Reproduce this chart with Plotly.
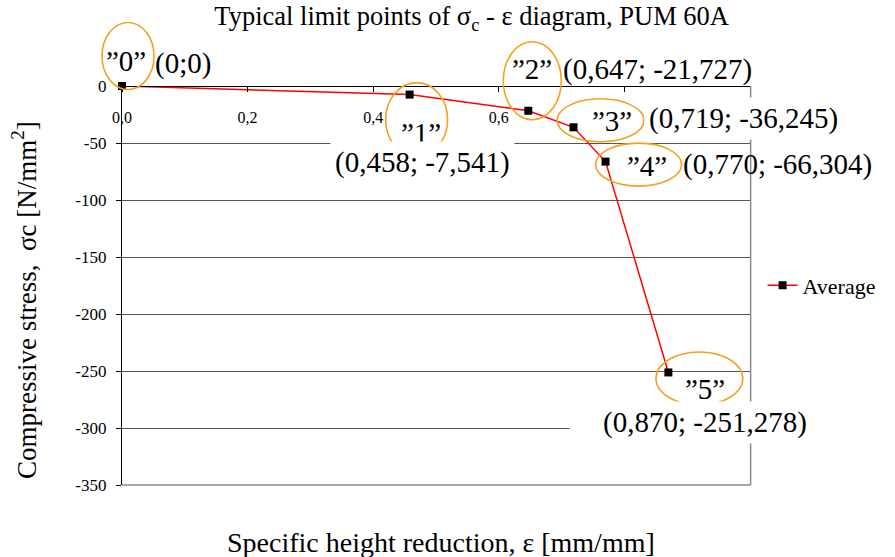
import plotly.graph_objects as go

# ---- data ----
strain = [0.0, 0.458, 0.647, 0.719, 0.770, 0.870]
stress = [0.0, -7.541, -21.727, -36.245, -66.304, -251.278]
point_names = ["”0”", "”1”", "”2”", "”3”", "”4”", "”5”"]
point_coords = ["(0;0)", "(0,458; -7,541)", "(0,647; -21,727)",
                "(0,719; -36,245)", "(0,770; -66,304)", "(0,870; -251,278)"]
series_name = "Average"

x_tick_vals = [0.0, 0.2, 0.4, 0.6, 0.8, 1.0]
x_tick_text = ["0,0", "0,2", "0,4", "0,6", "", ""]
y_tick_vals = [0, -50, -100, -150, -200, -250, -300, -350]
y_tick_text = ["0", "-50", "-100", "-150", "-200", "-250", "-300", "-350"]

title_text = "Typical limit points of σ<sub>c</sub> - ε diagram, PUM 60A"
x_title = "Specific height reduction, ε [mm/mm]"
y_title = "Compressive stress,  σc [N/mm<sup>2</sup>]"

X_RANGE = [0, 1.0]
Y_RANGE = [-350, 0]

# ---- label layout (pixel offsets from each point: right, down) ----
name_offsets = [(4, -25), (11, 38), (4, -42), (38, -6), (41, 4), (37, 17)]
coord_offsets = [(61, -23), (13, 68), (129, -41), (170, -9), (172, 3), (37, 50)]
coord_bg = [False, True, False, True, False, True]
coord_width = [None, None, None, None, None, 262]
ellipses = [(6, -30, 52, 67), (7, 25, 62, 74), (4, -30, 58, 78),
            (27, -7, 87, 43), (33, 3, 86, 43), (31, 6, 87, 53)]

FONT = "Liberation Serif, Times New Roman, DejaVu Serif, serif"
ORANGE = "#F5A01E"


def to_paper_x(v):
    return (v - X_RANGE[0]) / (X_RANGE[1] - X_RANGE[0])


def to_paper_y(v):
    return (v - Y_RANGE[0]) / (Y_RANGE[1] - Y_RANGE[0])


fig = go.Figure()
fig.add_trace(go.Scatter(
    x=strain, y=stress, mode="lines+markers", name=series_name,
    line=dict(color="#FF0000", width=1.5),
    marker=dict(symbol="square", size=8, color="black"),
    cliponaxis=False,
))

annotations = []
shapes = []

# plot frame (right and bottom, grey)
shapes.append(dict(type="line", xref="paper", yref="paper", x0=1.001, x1=1.001, y0=0, y1=1,
                   line=dict(color="#8a8a8a", width=1.5), layer="above"))
shapes.append(dict(type="line", xref="paper", yref="paper", x0=0, x1=1.001, y0=0, y1=0,
                   line=dict(color="#8a8a8a", width=1.5), layer="above"))

for i in range(len(strain)):
    dx, dy = name_offsets[i]
    annotations.append(dict(
        x=strain[i], y=stress[i], xref="x", yref="y", text=point_names[i],
        showarrow=False, xshift=dx, yshift=-dy,
        font=dict(family=FONT, size=29, color="black")))
    cx, cy = coord_offsets[i]
    a = dict(
        x=strain[i], y=stress[i], xref="x", yref="y", text=point_coords[i],
        showarrow=False, xshift=cx, yshift=-cy,
        font=dict(family=FONT, size=29, color="black"))
    if coord_bg[i]:
        a["bgcolor"] = "white"
        a["borderpad"] = 4
    if coord_width[i]:
        a["width"] = coord_width[i]
    annotations.append(a)
    ex, ey, ew, eh = ellipses[i]
    shapes.append(dict(
        type="circle", xref="paper", yref="paper", xsizemode="pixel", ysizemode="pixel",
        xanchor=to_paper_x(strain[i]), yanchor=to_paper_y(stress[i]),
        x0=ex - ew / 2, x1=ex + ew / 2, y0=-ey - eh / 2, y1=-ey + eh / 2,
        line=dict(color=ORANGE, width=1.6), layer="above"))

# axis titles
annotations.append(dict(x=0.508, y=-0.145, xref="paper", yref="paper", text=x_title,
                        xanchor="center", yanchor="middle",
                        showarrow=False, font=dict(family=FONT, size=28, color="black")))
annotations.append(dict(x=-0.155, y=0.463, xref="paper", yref="paper", text=y_title,
                        xanchor="center", yanchor="middle",
                        showarrow=False, textangle=-90,
                        font=dict(family=FONT, size=27, color="black")))

fig.update_layout(
    width=895, height=557,
    margin=dict(l=122, r=145, t=86, b=72),
    paper_bgcolor="white", plot_bgcolor="white",
    title=dict(text=title_text, x=0.527, xanchor="center", y=0.971, yanchor="middle",
               font=dict(family=FONT, size=26.5, color="black")),
    showlegend=True,
    legend=dict(x=1.02, y=0.5, xanchor="left", yanchor="middle",
                font=dict(family=FONT, size=22, color="black"),
                bgcolor="rgba(0,0,0,0)"),
    xaxis=dict(range=X_RANGE, anchor="free", position=1, side="bottom",
               tickvals=x_tick_vals, ticktext=x_tick_text,
               ticks="outside", ticklen=5, tickcolor="black",
               showline=True, linecolor="black", linewidth=1.2,
               showgrid=False, zeroline=False, automargin=False,
               ticklabelstandoff=12,
               tickfont=dict(family=FONT, size=16, color="black")),
    yaxis=dict(range=Y_RANGE, tickvals=y_tick_vals, ticktext=y_tick_text,
               ticks="outside", ticklen=5, tickcolor="black",
               showline=True, linecolor="black", linewidth=1.2,
               showgrid=True, gridcolor="#555555", gridwidth=1,
               zeroline=False, automargin=False, ticklabelstandoff=6,
               tickfont=dict(family=FONT, size=17, color="black")),
    annotations=annotations,
    shapes=shapes,
)

fig.write_html("out.html")
